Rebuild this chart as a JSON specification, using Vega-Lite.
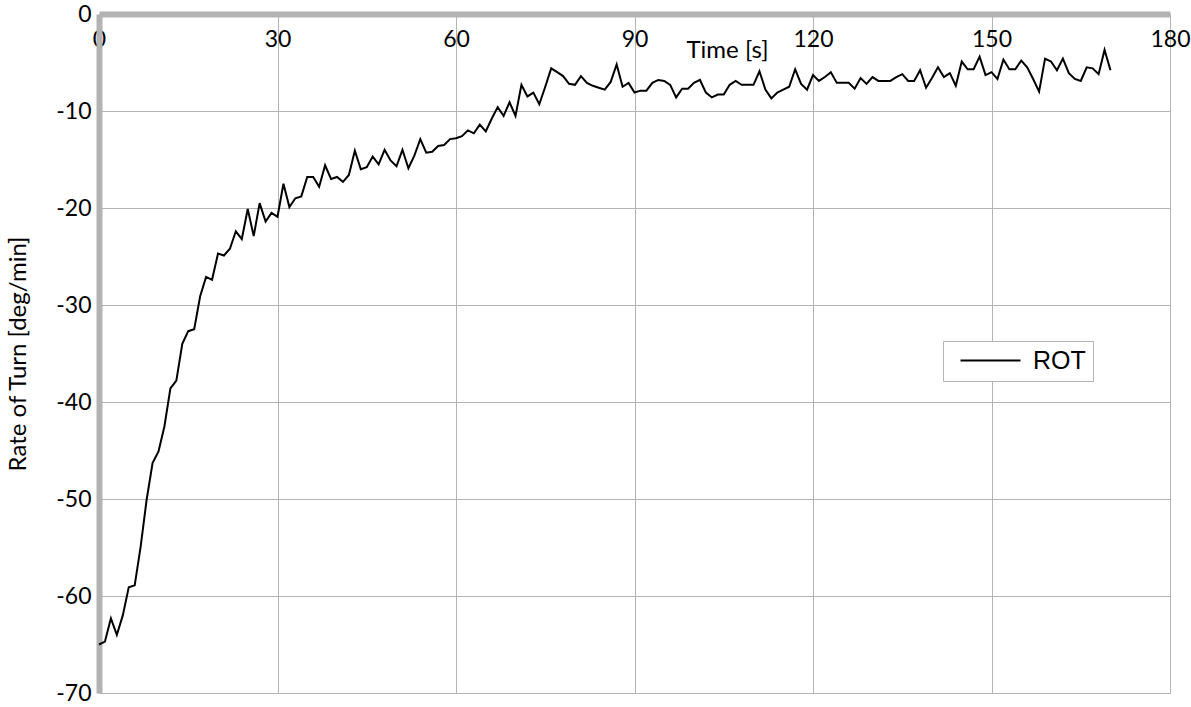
{
  "$schema": "https://vega.github.io/schema/vega-lite/v6.json",
  "width": 1071,
  "height": 679,
  "autosize": {"type": "none"},
  "padding": {"left": 99, "top": 14, "right": 21, "bottom": 14},
  "background": "white",
  "config": {"view": {"stroke": null}, "font": "Lato"},
  "data": {"values": [
    {"t":0,"rot":-65.0},{"t":1,"rot":-64.7},{"t":2,"rot":-62.3},{"t":3,"rot":-64.0},{"t":4,"rot":-62.0},
    {"t":5,"rot":-59.1},{"t":6,"rot":-58.9},{"t":7,"rot":-54.9},{"t":8,"rot":-50.1},{"t":9,"rot":-46.3},
    {"t":10,"rot":-45.1},{"t":11,"rot":-42.5},{"t":12,"rot":-38.6},{"t":13,"rot":-37.8},{"t":14,"rot":-34.0},
    {"t":15,"rot":-32.7},{"t":16,"rot":-32.5},{"t":17,"rot":-29.1},{"t":18,"rot":-27.1},{"t":19,"rot":-27.4},
    {"t":20,"rot":-24.7},{"t":21,"rot":-24.9},{"t":22,"rot":-24.2},{"t":23,"rot":-22.4},{"t":24,"rot":-23.2},
    {"t":25,"rot":-20.1},{"t":26,"rot":-22.9},{"t":27,"rot":-19.5},{"t":28,"rot":-21.4},{"t":29,"rot":-20.5},
    {"t":30,"rot":-20.9},{"t":31,"rot":-17.5},{"t":32,"rot":-19.9},{"t":33,"rot":-19.0},{"t":34,"rot":-18.8},
    {"t":35,"rot":-16.8},{"t":36,"rot":-16.8},{"t":37,"rot":-17.8},{"t":38,"rot":-15.6},{"t":39,"rot":-17.0},
    {"t":40,"rot":-16.8},{"t":41,"rot":-17.3},{"t":42,"rot":-16.6},{"t":43,"rot":-14.1},{"t":44,"rot":-16.0},
    {"t":45,"rot":-15.8},{"t":46,"rot":-14.7},{"t":47,"rot":-15.5},{"t":48,"rot":-14.0},{"t":49,"rot":-15.1},
    {"t":50,"rot":-15.7},{"t":51,"rot":-14.0},{"t":52,"rot":-15.9},{"t":53,"rot":-14.6},{"t":54,"rot":-12.9},
    {"t":55,"rot":-14.3},{"t":56,"rot":-14.2},{"t":57,"rot":-13.6},{"t":58,"rot":-13.5},{"t":59,"rot":-12.9},
    {"t":60,"rot":-12.8},{"t":61,"rot":-12.6},{"t":62,"rot":-12.0},{"t":63,"rot":-12.3},{"t":64,"rot":-11.4},
    {"t":65,"rot":-12.1},{"t":66,"rot":-10.8},{"t":67,"rot":-9.6},{"t":68,"rot":-10.5},{"t":69,"rot":-9.1},
    {"t":70,"rot":-10.5},{"t":71,"rot":-7.3},{"t":72,"rot":-8.5},{"t":73,"rot":-8.1},{"t":74,"rot":-9.3},
    {"t":75,"rot":-7.5},{"t":76,"rot":-5.6},{"t":77,"rot":-6.0},{"t":78,"rot":-6.4},{"t":79,"rot":-7.2},
    {"t":80,"rot":-7.3},{"t":81,"rot":-6.4},{"t":82,"rot":-7.1},{"t":83,"rot":-7.4},{"t":84,"rot":-7.6},
    {"t":85,"rot":-7.8},{"t":86,"rot":-7.0},{"t":87,"rot":-5.2},{"t":88,"rot":-7.5},{"t":89,"rot":-7.1},
    {"t":90,"rot":-8.1},{"t":91,"rot":-7.9},{"t":92,"rot":-7.9},{"t":93,"rot":-7.1},{"t":94,"rot":-6.8},
    {"t":95,"rot":-6.9},{"t":96,"rot":-7.3},{"t":97,"rot":-8.6},{"t":98,"rot":-7.7},{"t":99,"rot":-7.7},
    {"t":100,"rot":-7.1},{"t":101,"rot":-6.8},{"t":102,"rot":-8.1},{"t":103,"rot":-8.6},{"t":104,"rot":-8.3},
    {"t":105,"rot":-8.3},{"t":106,"rot":-7.3},{"t":107,"rot":-6.9},{"t":108,"rot":-7.3},{"t":109,"rot":-7.3},
    {"t":110,"rot":-7.3},{"t":111,"rot":-5.9},{"t":112,"rot":-7.8},{"t":113,"rot":-8.7},{"t":114,"rot":-8.1},
    {"t":115,"rot":-7.8},{"t":116,"rot":-7.5},{"t":117,"rot":-5.7},{"t":118,"rot":-7.2},{"t":119,"rot":-7.8},
    {"t":120,"rot":-6.3},{"t":121,"rot":-6.9},{"t":122,"rot":-6.5},{"t":123,"rot":-6.0},{"t":124,"rot":-7.1},
    {"t":125,"rot":-7.1},{"t":126,"rot":-7.1},{"t":127,"rot":-7.7},{"t":128,"rot":-6.6},{"t":129,"rot":-7.2},
    {"t":130,"rot":-6.5},{"t":131,"rot":-6.9},{"t":132,"rot":-6.9},{"t":133,"rot":-6.9},{"t":134,"rot":-6.5},
    {"t":135,"rot":-6.2},{"t":136,"rot":-6.9},{"t":137,"rot":-6.9},{"t":138,"rot":-5.8},{"t":139,"rot":-7.6},
    {"t":140,"rot":-6.6},{"t":141,"rot":-5.5},{"t":142,"rot":-6.5},{"t":143,"rot":-6.1},{"t":144,"rot":-7.4},
    {"t":145,"rot":-4.9},{"t":146,"rot":-5.7},{"t":147,"rot":-5.7},{"t":148,"rot":-4.4},{"t":149,"rot":-6.3},
    {"t":150,"rot":-6.0},{"t":151,"rot":-6.7},{"t":152,"rot":-4.7},{"t":153,"rot":-5.7},{"t":154,"rot":-5.7},
    {"t":155,"rot":-4.8},{"t":156,"rot":-5.5},{"t":157,"rot":-6.7},{"t":158,"rot":-8.0},{"t":159,"rot":-4.6},
    {"t":160,"rot":-4.9},{"t":161,"rot":-5.8},{"t":162,"rot":-4.6},{"t":163,"rot":-6.1},{"t":164,"rot":-6.7},
    {"t":165,"rot":-6.9},{"t":166,"rot":-5.5},{"t":167,"rot":-5.6},{"t":168,"rot":-6.2},{"t":169,"rot":-3.7},
    {"t":170,"rot":-5.8}
  ]},
  "mark": {"type": "line", "strokeWidth": 2},
  "encoding": {
    "x": {
      "field": "t", "type": "quantitative",
      "scale": {"domain": [0, 180], "nice": false, "zero": false},
      "axis": {
        "orient": "top", "values": [0, 30, 60, 90, 120, 150, 180],
        "title": "Time [s]", "ticks": false,
        "labelPadding": -14, "labelBaseline": "top", "labelFontSize": 23,
        "labelColor": "black", "labelFont": "Lato", "labelFlush": false, "labelOverlap": false,
        "domainColor": "#b3b3b3", "domainWidth": 6,
        "gridColor": "#b3b3b3", "gridWidth": 1, "gridOpacity": 1,
        "titleX": 628, "titleY": 36, "titleAlign": "center", "titleBaseline": "middle",
        "titleFontSize": 24, "titleFontWeight": "normal", "titleColor": "black", "titleFont": "Lato"
      }
    },
    "y": {
      "field": "rot", "type": "quantitative",
      "scale": {"domain": [-70, 0], "nice": false, "zero": false},
      "axis": {
        "orient": "left", "values": [-70, -60, -50, -40, -30, -20, -10, 0],
        "labelExpr": "toString(datum.value)",
        "title": "Rate of Turn [deg/min]", "ticks": false,
        "labelPadding": 8, "labelFontSize": 23, "labelColor": "black", "labelFont": "Lato",
        "labelFlush": false, "labelOverlap": false,
        "domainColor": "#b3b3b3", "domainWidth": 6,
        "gridColor": "#b3b3b3", "gridWidth": 1, "gridOpacity": 1,
        "titleX": -81, "titleY": 339.5, "titleAngle": -90, "titleAlign": "center", "titleBaseline": "middle",
        "titleFontSize": 24, "titleFontWeight": "normal", "titleColor": "black", "titleFont": "Lato"
      }
    },
    "color": {
      "datum": "ROT", "type": "nominal",
      "scale": {"range": ["black"]},
      "legend": {
        "orient": "none", "legendX": 844, "legendY": 327, "title": null,
        "labelExpr": "datum.label + '\u00a0'",
        "symbolType": "M-0.2,0H5.8", "symbolSize": 400, "symbolStrokeWidth": 2, "symbolStrokeColor": "black",
        "labelFont": "Liberation Sans", "labelFontSize": 25, "labelColor": "black", "labelOffset": 58,
        "strokeColor": "#b3b3b3", "padding": 7, "fillColor": "white"
      }
    }
  }
}
